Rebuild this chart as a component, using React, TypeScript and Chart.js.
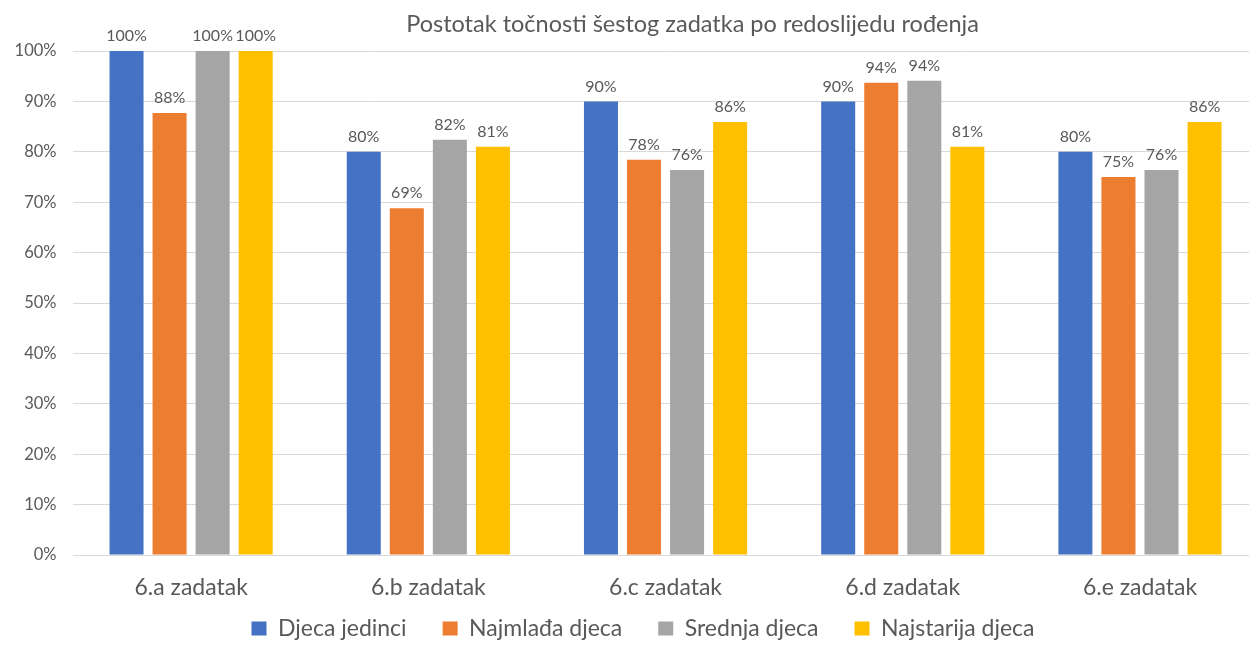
import React, { useEffect, useRef } from "react";
import { Chart, registerables } from "chart.js";

Chart.register(...registerables);

const categories = ["6.a zadatak", "6.b zadatak", "6.c zadatak", "6.d zadatak", "6.e zadatak"];
const seriesNames = ["Djeca jedinci", "Najmlađa djeca", "Srednja djeca", "Najstarija djeca"];
const djecaJedinci = [100, 80, 90, 90, 80];
const najmladaDjeca = [87.7, 68.8, 78.4, 93.7, 75];
const srednjaDjeca = [100, 82.4, 76.4, 94.1, 76.4];
const najstarijaDjeca = [100, 81, 85.9, 81, 85.9];
const colors = ["#4472C4", "#ED7D31", "#A5A5A5", "#FFC000"];
const titleText = "Postotak točnosti šestog zadatka po redoslijedu rođenja";

const FONT = "Lato, 'Open Sans', sans-serif";
const TEXT = "#595959";

const labelPlugin = {
  id: "barLabels",
  afterDatasetsDraw(chart: any) {
    const ctx = chart.ctx;
    ctx.save();
    ctx.font = `16px ${FONT}`;
    ctx.fillStyle = TEXT;
    ctx.textAlign = "center";
    ctx.textBaseline = "bottom";
    chart.data.datasets.forEach((ds: any, i: number) => {
      const meta = chart.getDatasetMeta(i);
      meta.data.forEach((el: any, j: number) => {
        ctx.fillText(Math.round(ds.data[j]) + "%", el.x, el.y - 7);
      });
    });
    ctx.restore();
  },
};

const titlePlugin = {
  id: "customTitle",
  afterDraw(chart: any) {
    const ctx = chart.ctx;
    const a = chart.chartArea;
    ctx.save();
    ctx.font = `23.5px ${FONT}`;
    ctx.fillStyle = TEXT;
    ctx.textAlign = "center";
    ctx.textBaseline = "middle";
    ctx.fillText(titleText, (a.left + a.right) / 2 + 27, 24);
    ctx.restore();
  },
};

const noLabelClip = (scale: any) => {
  scale._computeLabelArea = () => undefined;
};

export default function App() {
  const ref = useRef<HTMLCanvasElement>(null);
  useEffect(() => {
    if (!ref.current) return;
    const values = [djecaJedinci, najmladaDjeca, srednjaDjeca, najstarijaDjeca];
    const chart = new Chart(ref.current, {
      type: "bar",
      data: {
        labels: categories,
        datasets: seriesNames.map((name, i) => ({
          label: name,
          data: values[i],
          backgroundColor: colors[i],
          borderWidth: 0,
          categoryPercentage: 0.726,
          barPercentage: 0.79,
        })),
      },
      options: {
        animation: false,
        responsive: false,
        maintainAspectRatio: false,
        layout: { padding: { top: 51, right: 25.4, left: 27.4, bottom: 0 } },
        plugins: {
          title: { display: false },
          tooltip: { enabled: false },
          legend: {
            position: "bottom",
            labels: {
              boxWidth: 15,
              boxHeight: 14,
              padding: 36,
              color: TEXT,
              font: { family: FONT, size: 23 },
            },
          },
        },
        scales: {
          x: {
            grid: { display: false, drawTicks: false },
            border: { display: false },
            ticks: { color: TEXT, font: { family: FONT, size: 23 }, padding: 19 },
            afterFit(scale: any) {
              scale.height = 26;
              noLabelClip(scale);
            },
          },
          y: {
            min: 0,
            max: 100,
            grid: { color: "#D9D9D9", drawTicks: false },
            border: { display: false },
            ticks: {
              stepSize: 10,
              color: TEXT,
              font: { family: FONT, size: 16.5 },
              padding: 16,
              callback: (v: any) => v + "%",
            },
            afterFit(scale: any) {
              scale.width = 72.5 - 27.4;
              noLabelClip(scale);
            },
          },
        },
      },
      plugins: [labelPlugin, titlePlugin],
    });
    return () => chart.destroy();
  }, []);
  return (
    <div style={{ position: "fixed", left: 0, top: 0, width: 1249, height: 650, overflow: "hidden", background: "#fff" }}>
      <canvas ref={ref} width={1284} height={650} style={{ width: 1284, height: 650, display: "block" }} />
    </div>
  );
}
